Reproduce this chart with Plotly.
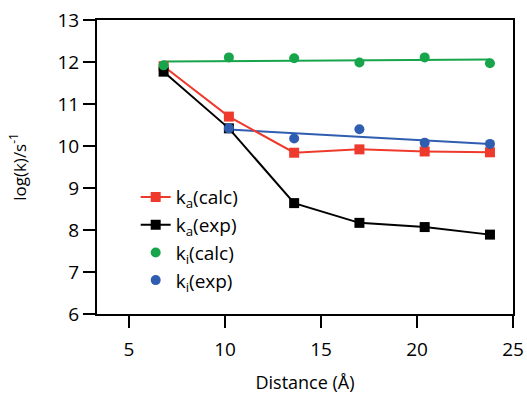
import plotly.graph_objects as go

distance = [6.8, 10.2, 13.6, 17.0, 20.4, 23.8]
ka_calc = [11.9, 10.70, 9.84, 9.92, 9.87, 9.85]
ka_exp = [11.77, 10.42, 8.64, 8.17, 8.07, 7.89]
ki_calc = [11.92, 12.11, 12.09, 11.99, 12.11, 11.97]
ki_calc_fit_x = [6.8, 23.8]
ki_calc_fit = [12.01, 12.06]
ki_exp_x = [10.2, 13.6, 17.0, 20.4, 23.8]
ki_exp = [10.42, 10.18, 10.40, 10.08, 10.05]
ki_exp_fit_x = [10.2, 23.8]
ki_exp_fit = [10.39, 10.05]

RED = "#EE3A2C"
BLACK = "#000000"
GREEN = "#17A54B"
BLUE = "#2F5DB0"
FONT = "Open Sans, Liberation Sans, Arial, sans-serif"

fig = go.Figure()
fig.add_trace(go.Scatter(x=ki_calc_fit_x, y=ki_calc_fit, mode="lines",
                         line=dict(color=GREEN, width=2), showlegend=False))
fig.add_trace(go.Scatter(x=ki_exp_fit_x, y=ki_exp_fit, mode="lines",
                         line=dict(color=BLUE, width=2), showlegend=False))
fig.add_trace(go.Scatter(x=distance, y=ka_calc, mode="lines+markers",
                         name="k<sub>a</sub>(calc)",
                         line=dict(color=RED, width=2),
                         marker=dict(symbol="square", size=10, color=RED)))
fig.add_trace(go.Scatter(x=distance, y=ka_exp, mode="lines+markers",
                         name="k<sub>a</sub>(exp)",
                         line=dict(color=BLACK, width=2),
                         marker=dict(symbol="square", size=10, color=BLACK)))
fig.add_trace(go.Scatter(x=distance, y=ki_calc, mode="markers",
                         name="k<sub>i</sub>(calc)",
                         marker=dict(symbol="circle", size=10, color=GREEN)))
fig.add_trace(go.Scatter(x=ki_exp_x, y=ki_exp, mode="markers",
                         name="k<sub>i</sub>(exp)",
                         marker=dict(symbol="circle", size=10, color=BLUE)))

fig.update_layout(
    width=527, height=394,
    margin=dict(l=97, r=14, t=20, b=80, autoexpand=False),
    paper_bgcolor="white", plot_bgcolor="white",
    font=dict(family=FONT, size=19, color="black"),
    legend=dict(x=0.093, y=0.462, xanchor="left", yanchor="top",
                bgcolor="rgba(0,0,0,0)", font=dict(size=19),
                tracegroupgap=0, itemwidth=30),
    xaxis=dict(range=[3.33, 25], tickvals=[5, 10, 15, 20, 25],
               showline=True, linecolor="black", linewidth=2, mirror=True,
               ticks="outside", ticklen=12, tickwidth=2, tickcolor="black",
               showgrid=False, zeroline=False, automargin=False,
               tickfont=dict(size=19), ticklabelstandoff=5,
               title=dict(text="Distance (Å)", font=dict(size=18), standoff=25)),
    yaxis=dict(range=[6, 13], tickvals=[6, 7, 8, 9, 10, 11, 12, 13],
               showline=True, linecolor="black", linewidth=2, mirror=True,
               ticks="outside", ticklen=12, tickwidth=2, tickcolor="black",
               showgrid=False, zeroline=False, automargin=False,
               tickfont=dict(size=19),
               title=dict(text="log(k)/s<sup>-1</sup>", font=dict(size=17), standoff=27)),
)

fig.write_html("out.html", config={"displayModeBar": False},
               post_script="document.body.style.margin='0';document.body.style.overflow='hidden';")
